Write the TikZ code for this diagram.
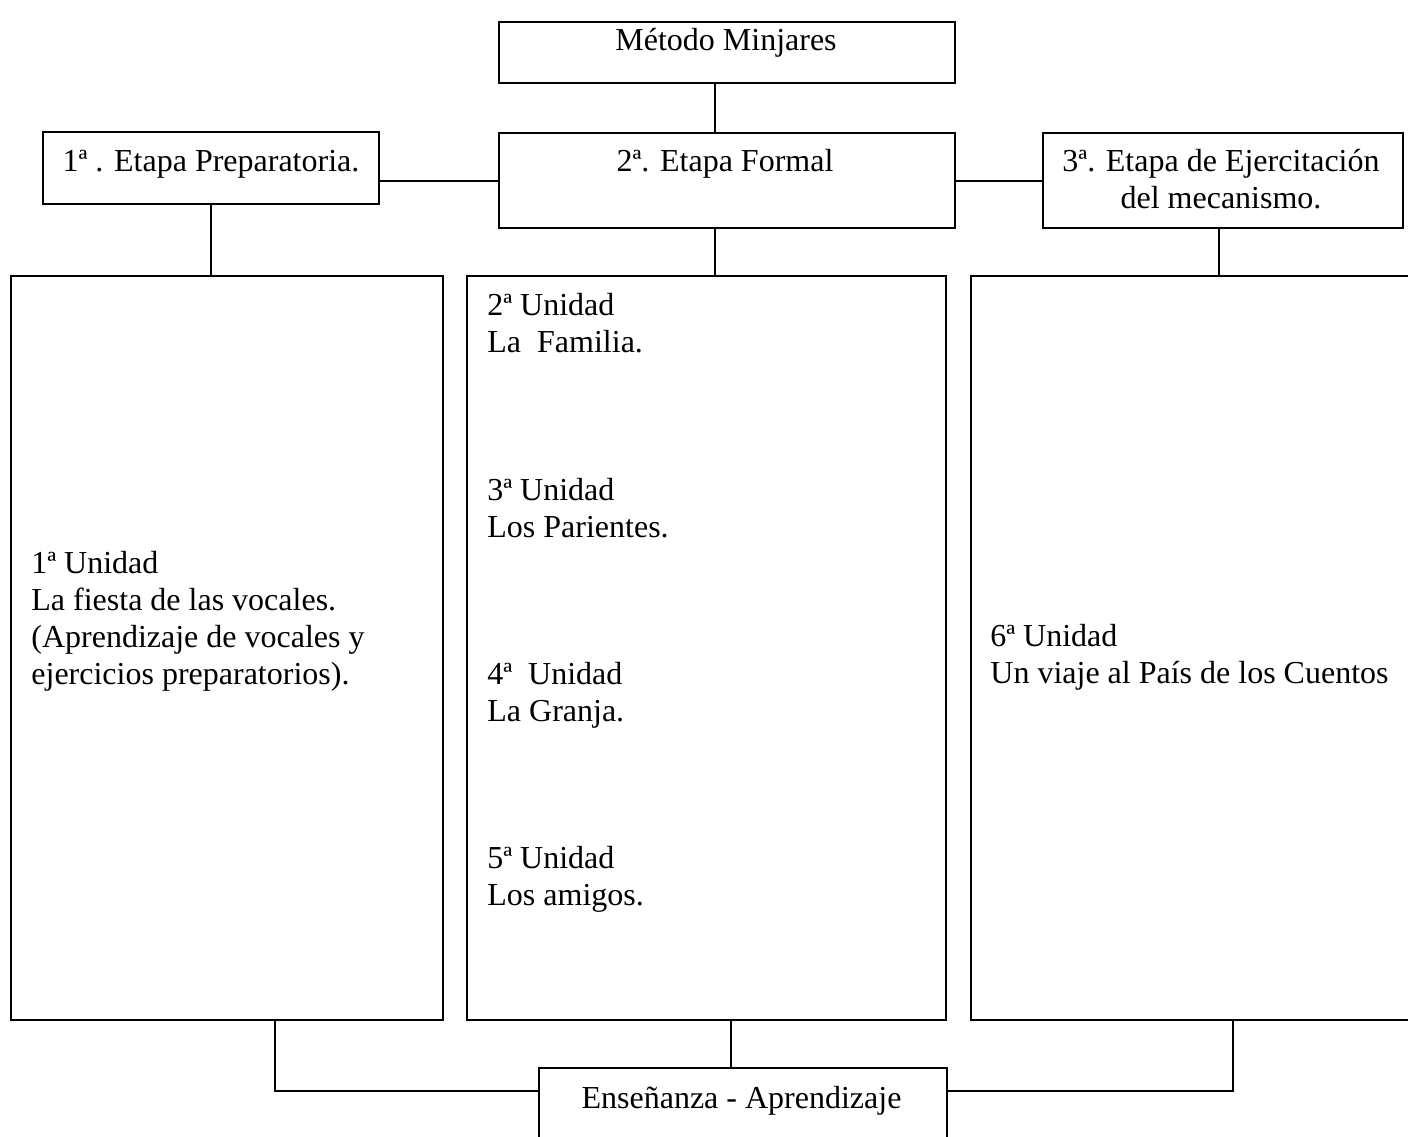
\documentclass[tikz,border=0pt]{standalone}
\usepackage{fontspec}
\setmainfont{Liberation Serif}
\usetikzlibrary{calc}
\begin{document}
\begin{tikzpicture}[x=0.5pt,y=-0.5pt,
  box/.style={draw=black, line width=1pt, inner sep=0pt, anchor=north west},
  conn/.style={draw=black, line width=1pt},
  txt/.style={inner sep=0pt, font=\fontsize{16}{18.5}\selectfont},
]
\path[use as bounding box] (0,0) rectangle (1408,1136);
\clip (0,0) rectangle (1408,1136);

% boxes
\node[box, minimum width=228pt, minimum height=30.5pt] (top) at (498,21) {};
\node[box, minimum width=168pt, minimum height=36pt] (e1) at (42,131) {};
\node[box, minimum width=228pt, minimum height=47.5pt] (e2) at (498,132) {};
\node[box, minimum width=180pt, minimum height=47.5pt] (e3) at (1042,132) {};
\node[box, minimum width=216pt, minimum height=372pt] (u1) at (10,275) {};
\node[box, minimum width=239.5pt, minimum height=372pt] (u2) at (466,275) {};
\node[box, minimum width=235pt, minimum height=372pt] (u3) at (970,275) {};
\node[box, minimum width=204pt, minimum height=46.5pt] (ea) at (538,1067) {};

% texts
\node[txt, anchor=base] (ttop) at (726,50) {Método Minjares};
\node[txt, anchor=base] (te1) at (211,171) {1ª . Etapa Preparatoria.};
\node[txt, anchor=base] (te2) at (725,171) {2ª. Etapa Formal};
\node[txt, anchor=base] (te3) at (1221,171) {\begin{tabular}[t]{@{}c@{}}3ª. Etapa de Ejercitación\\del mecanismo.\end{tabular}};
\node[txt, anchor=base west] (tu1) at (31,573) {\begin{tabular}[t]{@{}l@{}}1ª Unidad\\La fiesta de las vocales.\\(Aprendizaje de vocales y\\ejercicios preparatorios).\end{tabular}};
\node[txt, anchor=base west] (tu2a) at (487,315) {\begin{tabular}[t]{@{}l@{}}2ª Unidad\\La\ \ Familia.\end{tabular}};
\node[txt, anchor=base west] (tu2b) at (487,500) {\begin{tabular}[t]{@{}l@{}}3ª Unidad\\Los Parientes.\end{tabular}};
\node[txt, anchor=base west] (tu2c) at (487,684) {\begin{tabular}[t]{@{}l@{}}4ª\ \ Unidad\\La Granja.\end{tabular}};
\node[txt, anchor=base west] (tu2d) at (487,868) {\begin{tabular}[t]{@{}l@{}}5ª Unidad\\Los amigos.\end{tabular}};
\node[txt, anchor=base west] (tu3) at (990,646) {\begin{tabular}[t]{@{}l@{}}6ª Unidad\\Un viaje al País de los Cuentos\end{tabular}};
\node[txt, anchor=base] (tea) at (741.5,1108) {Enseñanza - Aprendizaje};

% connectors
\draw[conn] ([xshift=-6pt]top.south) -- ([xshift=-6pt]e2.north);
\draw[conn] (e1.east |- e2.west) -- (e2.west);
\draw[conn] (e2.east) -- (e3.west);
\draw[conn] (e1.south) -- (e1.south |- u1.north);
\draw[conn] ([xshift=-6pt]e2.south) -- ([xshift=-6pt]e2.south |- u2.north);
\draw[conn] ([xshift=-2pt]e3.south) -- ([xshift=-2pt]e3.south |- u3.north);
\draw[conn] ([xshift=-6pt]ea.north) -- ([xshift=-6pt]ea.north |- u2.south);
\draw[conn] ([yshift=-12pt]ea.north west) -| ([xshift=24pt]u1.south);
\draw[conn] ([yshift=-12pt]ea.north east) -| ([xshift=131.5pt]u3.south west);
\end{tikzpicture}
\end{document}
